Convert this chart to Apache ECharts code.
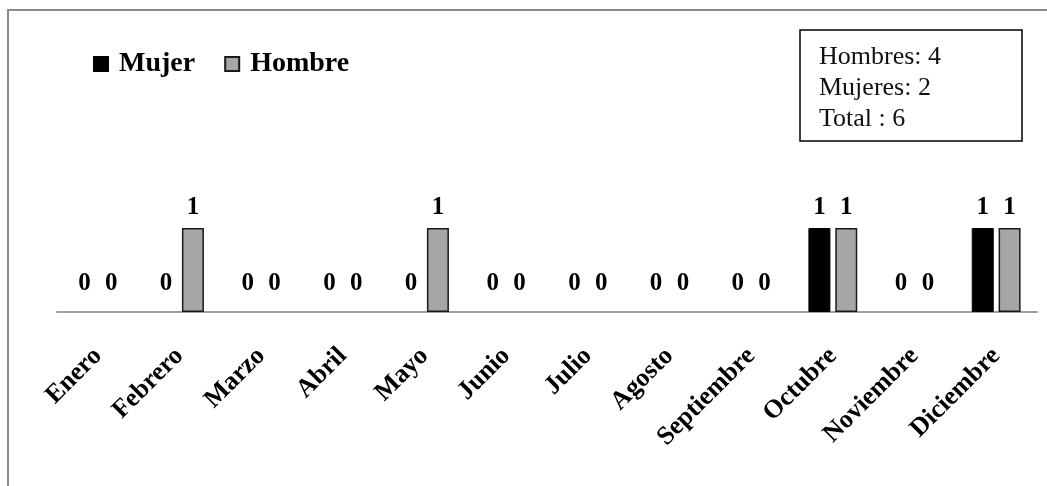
<!DOCTYPE html>
<html>
<head>
<meta charset="utf-8">
<script src="https://cdn.jsdelivr.net/npm/echarts@6/dist/echarts.min.js"></script>
<style>
  html, body { margin: 0; padding: 0; background: #fff; }
  #chart { width: 1047px; height: 486px; }
</style>
</head>
<body>
<div id="chart"></div>
<script>
const meses = ['Enero', 'Febrero', 'Marzo', 'Abril', 'Mayo', 'Junio', 'Julio',
  'Agosto', 'Septiembre', 'Octubre', 'Noviembre', 'Diciembre']
const mujer = [0, 0, 0, 0, 0, 0, 0, 0, 0, 1, 0, 1]
const hombre = [0, 1, 0, 0, 1, 0, 0, 0, 0, 1, 0, 1]
const resumen = ['Hombres: 4', 'Mujeres: 2', 'Total : 6']

const serif = '"Liberation Serif", "DejaVu Serif", serif'

// zero labels sit a bit higher than the ones on top of bars, and zero bars get no outline
function withLabels(vals) {
  return vals.map(v => ({
    value: v,
    label: { distance: v === 0 ? 16 : 8 },
    itemStyle: v === 0 ? { borderWidth: 0 } : {},
  }))
}

const labelStyle = {
  show: true,
  position: 'top',
  color: '#000',
  fontFamily: serif,
  fontWeight: 'bold',
  fontSize: 25,
}

const chart = echarts.init(document.getElementById('chart'))
const option = {
  animation: false,
  backgroundColor: '#fff',
  grid: { left: 57, right: 10, top: 144, bottom: 174, containLabel: false },
  legend: {
    left: 88,
    top: 45,
    icon: 'rect',
    itemWidth: 14,
    itemHeight: 14,
    itemGap: 29,
    textStyle: { color: '#000', fontFamily: serif, fontWeight: 'bold', fontSize: 28, padding: [0, 0, 0, 6] },
    data: ['Mujer', 'Hombre'],
  },
  xAxis: {
    type: 'category',
    data: meses,
    axisLine: { lineStyle: { color: '#a0a0a0', width: 2 } },
    axisTick: { show: false },
    axisLabel: {
      interval: 0,
      rotate: 45,
      margin: 40,
      color: '#000',
      fontFamily: serif,
      fontWeight: 'bold',
      fontSize: 26,
    },
  },
  yAxis: {
    type: 'value',
    min: 0,
    max: 2,
    show: false,
    splitLine: { show: false },
  },
  graphic: [
    {
      type: 'rect',
      shape: { x: 8, y: 10, width: 1200, height: 600 },
      style: { fill: 'none', stroke: '#8c8c8c', lineWidth: 2 },
      silent: true,
      z: -1,
    },
    {
      type: 'rect',
      shape: { x: 800, y: 30, width: 222, height: 111 },
      style: { fill: '#fff', stroke: '#000', lineWidth: 1.5 },
    },
    {
      type: 'text',
      left: 819,
      top: 42,
      style: {
        text: resumen.join('\n'),
        fill: '#111',
        font: '26px ' + serif,
        lineHeight: 31,
      },
    },
  ],
  series: [
    {
      name: 'Mujer',
      type: 'bar',
      barWidth: 22,
      barGap: '22%',
      itemStyle: { color: '#000', borderColor: '#000', borderWidth: 1 },
      label: labelStyle,
      data: withLabels(mujer),
    },
    {
      name: 'Hombre',
      type: 'bar',
      barWidth: 22,
      itemStyle: { color: '#a6a6a6', borderColor: '#1a1a1a', borderWidth: 1.5 },
      label: labelStyle,
      data: withLabels(hombre),
    },
  ],
}
chart.setOption(option)
</script>
</body>
</html>
